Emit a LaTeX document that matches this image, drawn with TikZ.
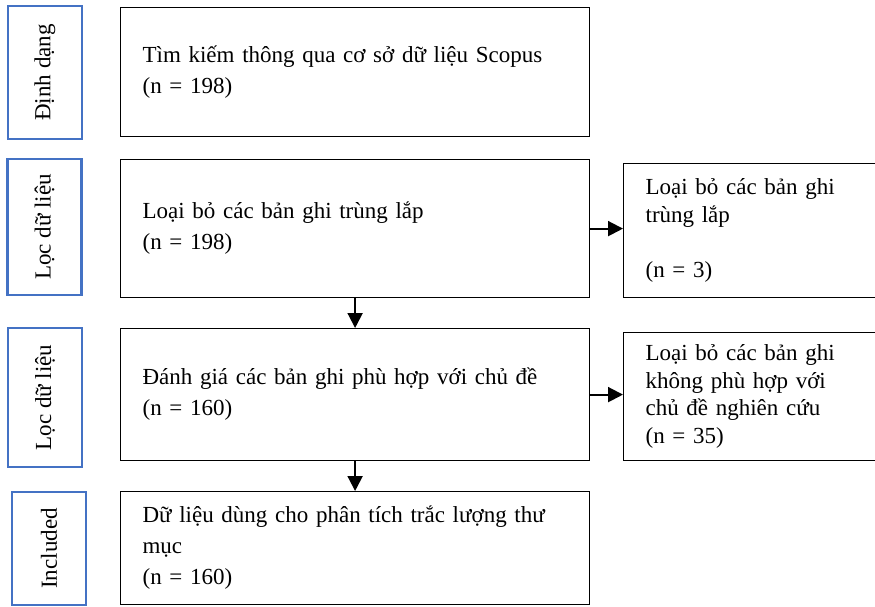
\documentclass[tikz,border=0pt]{standalone}
\usepackage{fontspec}
\setmainfont{Liberation Serif}
\usetikzlibrary{arrows.meta}
\definecolor{phaseblue}{HTML}{4472C4}

\begin{document}
\begin{tikzpicture}
  [x=1pt,y=-1pt
  ,font=\fontsize{23}{31}\selectfont
  ,phase/.style={draw=phaseblue,line width=2.5pt,rotate=90,inner sep=0pt}
  ,stepbox/.style={draw,line width=1.2pt,anchor=north west,inner xsep=22pt,inner ysep=0pt,text width=425pt,align=left}
  ,outbox/.style={stepbox,text width=240pt,font=\fontsize{23}{27.5}\selectfont}
  ,flow/.style={line width=2pt,-{Triangle[width=15pt,length=15pt]}}
  ]

  \useasboundingbox (0,0) rectangle (875,606);

  % Phase label
  %
  % #1 - name
  % #2 - centre x
  % #3 - centre y
  % #4 - length
  % #5 - text
  \newcommand{\phaselabel}[5]{
    \node[phase,minimum width=#4pt,minimum height=74pt] (#1) at (#2,#3) {#5};
  }

  \phaselabel{ident}{45}{72.5}{133}{Định dạng}
  \phaselabel{filterA}{44.5}{227}{136}{Lọc dữ liệu}
  \phaselabel{filterB}{45}{397.5}{139}{Lọc dữ liệu}
  \phaselabel{incl}{49}{548.5}{113}{Included}

  % search
  \node[stepbox,minimum height=129pt] (search) at (120,7)
    {Tìm kiếm thông qua cơ sở dữ liệu Scopus\\(n = 198)};

  % duplicates
  \node[stepbox,minimum height=138pt] (dedup) at (120,159)
    {Loại bỏ các bản ghi trùng lắp\\(n = 198)};
  \node[outbox,minimum height=134pt] (dupout) at (623,163)
    {Loại bỏ các bản ghi\\trùng lắp\\\mbox{}\\(n = 3)};

  % screening
  \node[stepbox,minimum height=132pt] (screen) at (120,328)
    {Đánh giá các bản ghi phù hợp với chủ đề\\(n = 160)};
  \node[outbox,minimum height=128pt] (offtopic) at (623,332)
    {Loại bỏ các bản ghi\\không phù hợp với\\chủ đề nghiên cứu\\(n = 35)};

  % included
  \node[stepbox,minimum height=113pt] (final) at (120,491)
    {Dữ liệu dùng cho phân tích trắc lượng thư\\mục\\(n = 160)};

  \draw[flow] (dedup.east) -- (dedup.east -| dupout.west);
  \draw[flow] (screen.east) -- (screen.east -| offtopic.west);
  \draw[flow] (dedup.south) -- (screen.north);
  \draw[flow] (screen.south) -- (final.north);

\end{tikzpicture}
\end{document}
